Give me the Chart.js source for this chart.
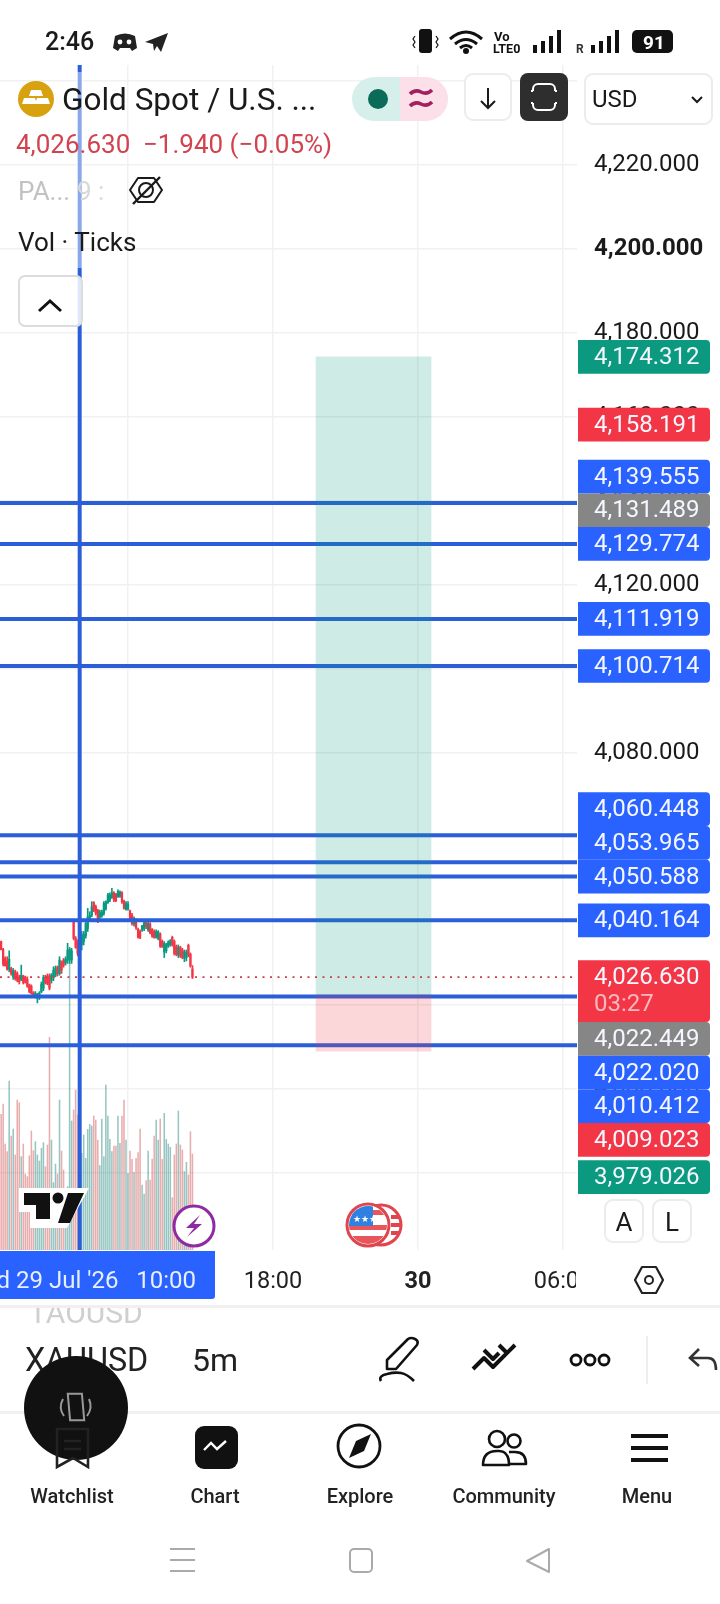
<!DOCTYPE html>
<html>
<head>
<meta charset="utf-8">
<title>XAUUSD 5m</title>
<script src="https://cdn.jsdelivr.net/npm/chart.js@4"></script>
<style>
html, body { margin: 0; padding: 0; background: #fff; }
body { width: 720px; height: 1604px; overflow: hidden; position: relative; }
canvas, svg { position: absolute; left: 0; top: 0; }
svg text { font-family: Roboto, sans-serif; }
</style>
</head>
<body>
<canvas id="xauChart" width="720" height="1604"></canvas>
<svg width="720" height="1604" viewBox="0 0 720 1604">
  <defs>
    <clipPath id="timeTagClip"><rect x="0" y="1251" width="215" height="48"/></clipPath>
    <clipPath id="taoClip"><rect x="0" y="1308" width="300" height="20"/></clipPath>
    <clipPath id="undoClip"><rect x="660" y="1330" width="60" height="60"/></clipPath>
    <clipPath id="flagClip"><circle cx="368" cy="1225" r="19"/></clipPath>
  </defs>

  <!-- status bar -->
  <rect x="0" y="0" width="720" height="65" fill="#fff"/>
  <rect x="578" y="65" width="142" height="15" fill="#fff"/>
  <text x="45" y="50" font-size="25" font-weight="500" fill="#1a1a1a">2:46</text>
  <path d="M115 36q10-5 20 0l2 12-5 3-2-3h-10l-2 3-5-3z" fill="#222"/>
  <circle cx="120" cy="42" r="2.4" fill="#fff"/>
  <circle cx="129" cy="42" r="2.4" fill="#fff"/>
  <path d="M145 42l23-9-7 19-4-6-3 5-1-7z" fill="#222"/>
  <rect x="419" y="29" width="13" height="24" rx="3" fill="#111"/>
  <path d="M415 36l-2 3 2 3-2 3 2 3M436 36l2 3-2 3 2 3-2 3" fill="none" stroke="#111" stroke-width="1.2"/>
  <path d="M450 39q16-14 32 0M455 44q11-9 22 0M460 48q6-5 12 0" fill="none" stroke="#111" stroke-width="3"/>
  <circle cx="466" cy="51" r="3" fill="#111"/>
  <text x="494" y="41" font-size="13" font-weight="700" fill="#111">Vo</text>
  <text x="493" y="53" font-size="12.5" font-weight="700" fill="#111">LTE0</text>
  <path d="M533 45h4v8h-4zM541 41h4v12h-4zM549 36h4v17h-4zM557 30h4v23h-4z" fill="#111"/>
  <text x="576" y="53" font-size="12" font-weight="700" fill="#333">R</text>
  <path d="M591 45h4v8h-4zM599 41h4v12h-4zM607 36h4v17h-4zM615 30h4v23h-4z" fill="#111"/>
  <rect x="632" y="30" width="41" height="23" rx="5" fill="#111"/>
  <text x="643" y="49" font-size="19" font-weight="700" fill="#fff">91</text>

  <!-- legend dims the crosshair behind it -->
  <rect x="76" y="72" width="8" height="196" fill="#fff" fill-opacity="0.45"/>

  <!-- symbol row -->
  <circle cx="36" cy="99" r="18" fill="#d8a110"/>
  <path d="M31 90h10l2 6H29zM24 98h11l2 6H22zM37 98h11l2 6H35z" fill="#fff"/>
  <text x="62" y="110" font-size="31.5" fill="#1a1a1a">Gold Spot / U.S. ...</text>
  <path d="M374 77h26v44h-26a22 22 0 0 1 0-44z" fill="#d6efeb"/>
  <path d="M400 77h26a22 22 0 0 1 0 44h-26z" fill="#fbe0ea"/>
  <circle cx="378" cy="99" r="10" fill="#0a6b58"/>
  <path d="M410 94q5-5 11-2t11-2M410 106q5-5 11-2t11-2" fill="none" stroke="#a31f5f" stroke-width="3.6"/>
  <rect x="465" y="74" width="46" height="46" rx="8" fill="#fff" stroke="#ececec" stroke-width="2"/>
  <path d="M488 88v20M481 101l7 7 7-7" fill="none" stroke="#1a1a1a" stroke-width="2"/>
  <rect x="520" y="73" width="48" height="48" rx="8" fill="#2e2e2e"/>
  <path d="M533 91v-2a5 5 0 0 1 5-5h12a5 5 0 0 1 5 5v2M533 103v2a5 5 0 0 0 5 5h12a5 5 0 0 0 5-5v-2M531 91h2M555 91h2M531 103h2M555 103h2" fill="none" stroke="#fff" stroke-width="2"/>
  <rect x="585" y="74" width="127" height="50" rx="8" fill="#fff" stroke="#ececec" stroke-width="2"/>
  <text x="592" y="107" font-size="24" fill="#1a1a1a">USD</text>
  <path d="M692 97l5 5 5-5" fill="none" stroke="#1a1a1a" stroke-width="2"/>

  <text x="16" y="153" font-size="26" fill="#d0434f">4,026.630</text>
  <text x="143" y="153" font-size="26" fill="#d0434f">−1.940 (−0.05%)</text>
  <text x="18" y="200" font-size="26" fill="#c2c2c2">PA...</text>
  <text x="77" y="200" font-size="26" fill="#d8d8d8">9 :</text>
  <path d="M130 190l8-12h16l8 12-8 12h-16z" fill="none" stroke="#1a1a1a" stroke-width="2" stroke-linejoin="round"/>
  <circle cx="146" cy="190" r="7" fill="none" stroke="#1a1a1a" stroke-width="2"/>
  <path d="M133 204l27-27" stroke="#1a1a1a" stroke-width="2.4"/>
  <text x="18" y="251" font-size="26" fill="#1a1a1a">Vol · Ticks</text>
  <rect x="19" y="276" width="63" height="50" rx="6" fill="#fff" fill-opacity="0.85" stroke="#dcdcdc" stroke-width="2"/>
  <path d="M39 311l11-10 11 10" fill="none" stroke="#111" stroke-width="3"/>

  <!-- chart badges -->
  <path d="M19 1188h70l-22 40H30v-16H19z" fill="#fff"/>
  <path d="M24 1193h26v26H36v-14H24z" fill="#111"/>
  <circle cx="58" cy="1198" r="5.5" fill="#111"/>
  <path d="M68 1193h16l-14 30H58z" fill="#111"/>
  <circle cx="194" cy="1226" r="20" fill="#fff" stroke="#8e2ba3" stroke-width="3"/>
  <path d="M200 1215l-14 13h8l-7 9 15-13h-8z" fill="#8e2ba3"/>
  <circle cx="381" cy="1225" r="20" fill="#fff" stroke="#e0454d" stroke-width="3"/>
  <path d="M391 1217h9M391 1225h10M391 1233h8" stroke="#e0454d" stroke-width="4"/>
  <circle cx="368" cy="1225" r="21" fill="#fff" stroke="#e0454d" stroke-width="3"/>
  <g clip-path="url(#flagClip)">
    <path d="M349 1210h38v5h-38zM349 1225h38v5h-38zM349 1236h38v8h-38z" fill="#e8555a"/>
    <rect x="349" y="1206" width="24" height="20" fill="#2f80e0"/>
    <text x="353" y="1222" font-size="9" fill="#fff">★★★</text>
  </g>
  <rect x="605" y="1200" width="38" height="42" rx="8" fill="#fff" stroke="#ececec" stroke-width="2"/>
  <text x="624" y="1231" font-size="26" text-anchor="middle" fill="#1a1a1a">A</text>
  <rect x="653" y="1200" width="38" height="42" rx="8" fill="#fff" stroke="#ececec" stroke-width="2"/>
  <text x="672" y="1231" font-size="26" text-anchor="middle" fill="#1a1a1a">L</text>

  <!-- time axis -->
  <rect x="576" y="1251" width="144" height="50" fill="#fff"/>
  <path d="M0 1251h215v45a3 3 0 0 1-3 3H0z" fill="#2962ff"/>
  <text x="196" y="1288" font-size="24" text-anchor="end" fill="#e8efff" xml:space="preserve" clip-path="url(#timeTagClip)">Wed 29 Jul '26   10:00</text>
  <path d="M642 1267h14l7 13-7 13h-14l-7-13z" fill="none" stroke="#222" stroke-width="2.2" stroke-linejoin="round"/>
  <circle cx="649" cy="1280" r="4" fill="none" stroke="#222" stroke-width="2"/>

  <!-- toolbar -->
  <rect x="0" y="1305" width="720" height="3" fill="#f0f0f0"/>
  <text x="29" y="1323" font-size="30" fill="#cfcfcf" clip-path="url(#taoClip)">TAOUSD</text>
  <text x="25" y="1371" font-size="32.3" fill="#222">XAUUSD</text>
  <text x="192" y="1371" font-size="32" fill="#222">5m</text>
  <path d="M387 1369v-9l21-21q3-2 7 0t2 6l-21 24z" fill="none" stroke="#111" stroke-width="2.6" stroke-linejoin="round"/>
  <path d="M381 1381q-3-5 6-7 8-2 14-1t13 8" fill="none" stroke="#111" stroke-width="2.6"/>
  <path d="M473 1369l11-11 9 9 22-22M484 1350l9 9 6-6M499 1345l7 7" fill="none" stroke="#111" stroke-width="4" stroke-linejoin="round"/>
  <circle cx="576" cy="1360" r="5" fill="none" stroke="#111" stroke-width="2.8"/>
  <circle cx="590" cy="1360" r="5" fill="none" stroke="#111" stroke-width="2.8"/>
  <circle cx="604" cy="1360" r="5" fill="none" stroke="#111" stroke-width="2.8"/>
  <rect x="646" y="1336" width="2" height="48" fill="#eee"/>
  <path d="M699 1349l-9 9 9 8M690 1358h18q8 0 8 12" fill="none" stroke="#333" stroke-width="2.6" clip-path="url(#undoClip)"/>
  <rect x="0" y="1411" width="720" height="3" fill="#f0f0f0"/>

  <!-- bottom nav -->
  <ellipse cx="76" cy="1408" rx="52" ry="52" fill="#111"/>
  <path d="M66 1395l14-2 6 26-14 2z" fill="none" stroke="#999" stroke-width="2" transform="rotate(8 76 1407)"/>
  <path d="M63 1399q-5 9 1 17M89 1399q4 9-2 17" fill="none" stroke="#999" stroke-width="2"/>
  <path d="M57 1429h31v38l-15-9-16 9z" fill="none" stroke="#222" stroke-width="2.6"/>
  <path d="M64 1441h17M64 1449h17" stroke="#222" stroke-width="2.6"/>
  <rect x="195" y="1426" width="43" height="43" rx="9" fill="#111"/>
  <path d="M204 1450l7-7 6 6 9-8" fill="none" stroke="#fff" stroke-width="2.4"/>
  <circle cx="359" cy="1446" r="21" fill="none" stroke="#111" stroke-width="2.8"/>
  <path d="M371 1434l-7 17-15 7 7-17z" fill="#111"/>
  <circle cx="497" cy="1439" r="8" fill="none" stroke="#111" stroke-width="2.6"/>
  <circle cx="514" cy="1441" r="6.5" fill="none" stroke="#111" stroke-width="2.6"/>
  <path d="M483 1465q0-14 14-14h2q10 0 10 14zM509 1452h6q11 0 11 12h-16" fill="none" stroke="#111" stroke-width="2.6" stroke-linejoin="round"/>
  <path d="M631 1434h37v4h-37zM631 1446h37v4h-37zM631 1458h37v4h-37z" fill="#111"/>
  <g font-size="20" font-weight="500" fill="#222" text-anchor="middle">
    <text x="72" y="1503">Watchlist</text>
    <text x="215" y="1503">Chart</text>
    <text x="360" y="1503">Explore</text>
    <text x="504" y="1503">Community</text>
    <text x="647" y="1503">Menu</text>
  </g>
  <path d="M170 1549h25M170 1560h25M170 1571h25" stroke="#aaa" stroke-width="2"/>
  <rect x="350" y="1549" width="22" height="23" rx="4" fill="none" stroke="#aaa" stroke-width="2"/>
  <path d="M549 1549v23l-22-11z" fill="none" stroke="#aaa" stroke-width="2" stroke-linejoin="round"/>
</svg>

<script>
// 5 分钟K线 (XAUUSD)
const opens = [4035.1,4033.2,4031.1,4030.3,4028.5,4028.7,4026.7,4027.9,4027.5,4026.7,4026.1,4026.7,4026.6,4026.1,4024.8,4024.5,4022.9,4021.8,4021.6,4021.8,4023.2,4024.0,4026.7,4026.9,4026.9,4025.9,4026.6,4027.1,4029.0,4027.5,4030.3,4030.7,4030.1,4030.7,4030.7,4030.7,4039.8,4035.9,4035.1,4033.1,4034.3,4035.1,4036.4,4038.2,4040.4,4041.4,4044.4,4043.4,4042.5,4040.9,4041.2,4041.8,4043.0,4044.4,4045.0,4045.6,4046.7,4046.4,4045.8,4045.9,4046.7,4044.7,4042.8,4042.8,4042.4,4041.4,4039.3,4040.4,4038.0,4037.5,4037.9,4038.2,4040.0,4037.9,4039.3,4038.0,4037.5,4036.1,4035.9,4036.9,4035.2,4032.6,4032.9,4034.0,4034.4,4036.1,4035.2,4034.0,4031.9,4033.7,4033.1,4031.1,4031.3,4034.2,4032.1,4028.57];
const highs = [4035.2,4033.5,4031.5,4031.5,4032.9,4029.0,4028.7,4028.3,4027.9,4027.1,4029.5,4027.1,4026.9,4026.7,4025.0,4024.8,4023.2,4023.2,4022.8,4023.2,4025.5,4027.1,4027.1,4027.4,4027.4,4027.5,4029.1,4029.3,4029.3,4031.5,4030.5,4031.1,4031.5,4034.7,4033.7,4033.5,4040.2,4036.3,4035.5,4034.7,4037.5,4037.5,4040.2,4043.0,4042.2,4044.6,4044.6,4043.8,4042.8,4042.6,4042.6,4044.6,4044.8,4046.6,4046.7,4047.8,4047.0,4046.6,4047.4,4047.2,4047.0,4045.0,4044.6,4044.6,4042.6,4041.8,4041.0,4040.6,4038.3,4037.9,4039.0,4039.8,4040.2,4039.8,4039.6,4038.2,4037.9,4037.9,4037.7,4037.2,4035.5,4035.1,4034.7,4035.3,4035.6,4036.4,4035.5,4034.3,4034.3,4034.0,4033.5,4033.1,4033.1,4034.5,4032.4,4029.4];
const lows = [4033.1,4029.3,4029.3,4028.3,4027.9,4027.1,4026.1,4025.9,4025.5,4025.0,4025.8,4025.0,4025.2,4024.2,4022.9,4022.6,4021.8,4021.7,4020.5,4021.3,4022.9,4023.4,4025.0,4024.8,4023.6,4025.2,4025.8,4026.7,4026.9,4027.1,4027.5,4029.0,4029.5,4029.9,4029.9,4029.9,4035.5,4033.5,4031.7,4032.7,4033.1,4034.3,4035.9,4037.5,4040.2,4041.0,4042.2,4041.4,4039.6,4040.6,4040.9,4041.4,4042.6,4044.2,4044.6,4045.4,4044.6,4044.6,4045.6,4045.6,4044.2,4042.8,4042.6,4042.6,4040.2,4039.0,4038.8,4038.0,4035.9,4035.8,4037.5,4037.7,4038.2,4037.5,4036.9,4036.1,4035.9,4035.9,4035.5,4033.7,4033.7,4031.3,4032.4,4033.7,4034.0,4034.0,4031.9,4031.7,4031.3,4031.3,4031.0,4030.3,4030.5,4031.5,4029.0,4026.3];
const closes = [4033.2,4029.8,4029.3,4028.5,4030.9,4027.5,4028.2,4026.3,4025.9,4025.5,4027.1,4025.3,4025.5,4024.5,4023.2,4022.8,4022.0,4022.8,4022.4,4022.9,4025.0,4026.6,4025.3,4025.0,4024.0,4027.1,4028.3,4028.7,4027.5,4030.7,4028.3,4029.5,4030.9,4033.1,4033.2,4032.9,4035.9,4033.7,4032.3,4034.7,4036.7,4036.9,4039.4,4041.0,4041.4,4043.4,4042.6,4041.8,4040.2,4042.0,4042.2,4044.2,4044.6,4046.2,4046.2,4046.7,4045.0,4044.8,4047.0,4046.9,4044.6,4043.0,4044.2,4044.0,4040.5,4039.4,4040.6,4038.4,4036.1,4036.0,4038.8,4039.6,4038.6,4039.4,4037.2,4036.4,4036.1,4037.5,4037.4,4034.0,4033.9,4034.7,4034.4,4035.0,4035.3,4034.3,4032.3,4032.0,4033.7,4031.7,4031.3,4032.7,4032.5,4031.9,4029.3,4026.63];
const volumes = [407,438,318,295,507,342,363,285,450,442,280,318,228,220,283,357,298,325,285,267,305,322,250,315,638,330,202,258,228,450,297,240,180,190,861,387,420,480,405,390,290,345,275,362,377,372,402,390,330,253,393,280,495,402,332,295,312,312,402,320,402,450,330,230,297,272,233,275,292,363,195,168,208,297,210,273,342,390,330,393,272,410,332,318,308,157,285,318,417,315,300,235,263,225,355,288];

// 水平线和坐标轴标签
const drawnLevels = [4139.555,4129.774,4111.919,4100.714,4060.448,4053.965,4050.588,4040.164,4022.020,4010.412];
const lastPrice = 4026.630;
const countdown = '03:27';
const tagPrices = [4174.312,4158.191,4139.555,4131.489,4129.774,4111.919,4100.714,4060.448,4053.965,4050.588,4040.164,4026.630,4022.449,4022.020,4010.412,4009.023,3979.026];
const tagColors = ['#0b9a7f','#f23645','#2962ff','#868686','#2962ff','#2962ff','#2962ff','#2962ff','#2962ff','#2962ff','#2962ff','#f23645','#868686','#2962ff','#2962ff','#f23645','#0b9a7f'];

// 多单盈亏框
const positionEntry = 4022.449;
const positionTarget = 4174.312;
const positionStop = 4009.023;
const positionHours = 22.16;

const priceTicks = [4240,4220,4200,4180,4160,4140,4120,4100,4080,4060,4040,4020,4000,3980];
const timeTicks = [12,18,24,30];
const timeLabels = ['12:00','18:00','30','06:00'];
const crosshairHour = 10;

// 横轴单位是小时 (7月29日 00:00 起)
const barHours = closes.map((_, i) => 6.75 + i / 12);
const priceMin = 3961.67, priceMax = 4243.81;
const hourMin = 6.703, hourMax = 30.58;

const upColor = '#089981', downColor = '#f23645';
const lineColor = '#2b5fd9';
const candleColors = closes.map((c, i) => c >= opens[i] ? upColor : downColor);
const volumeColors = closes.map((c, i) => c >= opens[i] ? 'rgba(8,120,110,0.42)' : 'rgba(200,60,60,0.42)');

function levelDataset(price, color, width, dash, order) {
    return {
        type: 'line',
        data: [{ x: hourMin, y: price }, { x: hourMax, y: price }],
        borderColor: color,
        borderWidth: width,
        borderDash: dash,
        pointRadius: 0,
        order: order
    };
}

// 价格标签: 以现价标签为基准, 上下错开不重叠
const priceTagsPlugin = {
    id: 'priceTags',
    afterDraw(chart) {
        const ctx = chart.ctx;
        const yScale = chart.scales.y;
        const h = 33.7, left = 578, width = 132;
        const tags = tagPrices.map((p, i) => ({ price: p, color: tagColors[i], top: yScale.getPixelForValue(p) - h / 2, height: h }));
        const pivot = tagPrices.indexOf(lastPrice);
        tags[pivot].height = 61.7;
        for (let i = pivot - 1; i >= 0; i--) {
            tags[i].top = Math.min(tags[i].top, tags[i + 1].top - tags[i].height);
        }
        for (let i = pivot + 1; i < tags.length; i++) {
            tags[i].top = Math.max(tags[i].top, tags[i - 1].top + tags[i - 1].height);
        }
        ctx.save();
        ctx.textAlign = 'left';
        ctx.textBaseline = 'middle';
        ctx.font = '24px Roboto';
        tags.forEach((t, i) => {
            ctx.fillStyle = t.color;
            ctx.beginPath();
            ctx.roundRect(left, t.top, width, t.height, [0, 4, 4, 0]);
            ctx.fill();
            ctx.fillStyle = '#f4f7ff';
            const label = t.price.toLocaleString('en-US', { minimumFractionDigits: 3 });
            ctx.fillText(label, 594, t.top + h / 2 + 1);
            if (i === pivot) {
                ctx.fillStyle = '#fbb9bf';
                ctx.fillText(countdown, 594, t.top + 45);
            }
        });
        ctx.restore();
    }
};

const datasets = [
    {
        label: 'Vol',
        data: barHours.map((x, i) => ({ x: x, y: volumes[i] })),
        yAxisID: 'y1',
        backgroundColor: volumeColors,
        barThickness: 0.9,
        order: 60
    },
    {
        label: 'wick',
        data: barHours.map((x, i) => ({ x: x, y: [lows[i], highs[i]] })),
        backgroundColor: candleColors,
        barThickness: 1,
        order: 41
    },
    {
        label: 'body',
        data: barHours.map((x, i) => ({ x: x, y: [opens[i], closes[i]] })),
        backgroundColor: candleColors,
        barThickness: 1.6,
        order: 40
    },
    {
        label: 'target',
        data: [{ x: positionHours, y: [positionEntry, positionTarget] }],
        backgroundColor: 'rgba(8,153,129,0.2)',
        barThickness: 115,
        order: 20
    },
    {
        label: 'stop',
        data: [{ x: positionHours, y: [positionStop, positionEntry] }],
        backgroundColor: 'rgba(242,54,69,0.2)',
        barThickness: 115,
        order: 20
    },
    {
        type: 'line',
        label: 'crosshair',
        data: [{ x: crosshairHour, y: priceMin }, { x: crosshairHour, y: priceMax }],
        borderColor: lineColor,
        borderWidth: 4,
        pointRadius: 0,
        order: 25
    },
    levelDataset(lastPrice, '#c9404c', 1.6, [2, 5.5], 10)
];
drawnLevels.forEach(p => datasets.push(levelDataset(p, lineColor, 4, [], 30)));

new Chart(document.getElementById('xauChart'), {
    type: 'bar',
    data: { datasets: datasets },
    plugins: [priceTagsPlugin],
    options: {
        responsive: false,
        animation: false,
        devicePixelRatio: 1,
        grouped: false,
        layout: { padding: { top: 65, bottom: 308, left: 0, right: 0 } },
        plugins: { legend: { display: false }, tooltip: { enabled: false } },
        scales: {
            x: {
                type: 'linear',
                offset: false,
                min: hourMin,
                max: hourMax,
                afterBuildTicks: scale => { scale.ticks = timeTicks.map(v => ({ value: v })); },
                afterFit: scale => { scale.height = 46; },
                border: { display: false },
                grid: { offset: false, color: '#f1f1f1', lineWidth: 1.5, drawTicks: false },
                ticks: {
                    autoSkip: false,
                    maxRotation: 0,
                    padding: 18,
                    color: '#222',
                    font: ctx => ({ family: 'Roboto', size: 23.5, weight: ctx.tick && ctx.tick.value === 24 ? 'bold' : 'normal' }),
                    callback: v => timeLabels[timeTicks.indexOf(v)]
                }
            },
            y: {
                position: 'right',
                min: priceMin,
                max: priceMax,
                afterBuildTicks: scale => { scale.ticks = priceTicks.map(v => ({ value: v })); },
                afterFit: scale => { scale.width = 143; },
                border: { display: false },
                grid: { color: '#f1f1f1', lineWidth: 1.5, drawTicks: false },
                ticks: {
                    autoSkip: false,
                    padding: 17,
                    color: '#1a1a1a',
                    font: ctx => ({ family: 'Roboto', size: 24, weight: ctx.tick && ctx.tick.value === 4200 ? 'bold' : 'normal' }),
                    callback: v => v.toLocaleString('en-US', { minimumFractionDigits: 3 })
                }
            },
            y1: { display: false, min: 0, max: 3555 }
        }
    }
});
</script>
</body>
</html>
